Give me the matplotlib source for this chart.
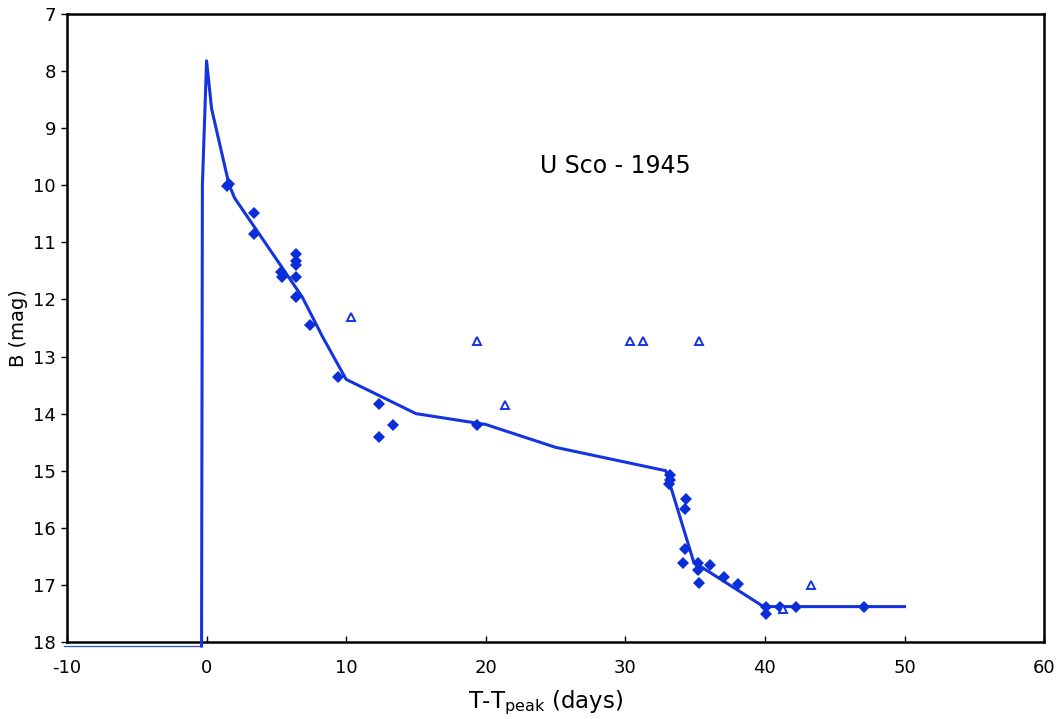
import matplotlib
matplotlib.use("Agg")
import matplotlib.pyplot as plt

plt.rcParams["axes.unicode_minus"] = False

# ---- model light curve ----
model_t = [-0.36, -0.3, 0.0, 0.36, 1.6, 2.0, 6.86, 8.3, 10.0, 15.0, 20.0, 25.0, 32.9, 34.9, 39.9, 50.0]
model_b = [18.07, 10.0, 7.82, 8.66, 9.98, 10.22, 11.96, 12.65, 13.4, 14.0, 14.19, 14.59, 15.0, 16.6, 17.38, 17.38]

# pre-eruption baseline
base_t = [-10.2, -0.36]
base_b = [18.07, 18.07]

# ---- B observations ----
obs_t = [1.43, 1.64, 3.43, 3.43, 5.36, 5.43, 6.43, 6.43, 6.43, 6.43, 6.43, 7.43,
         9.40, 12.36, 13.36, 12.36, 19.36, 33.2, 33.2, 33.1, 34.36, 34.3, 34.3,
         34.14, 35.2, 35.2, 35.3, 36.1, 37.1, 38.1, 40.1, 40.1, 41.07, 42.2, 47.07]
obs_b = [10.02, 9.97, 10.48, 10.85, 11.52, 11.6, 11.21, 11.33, 11.4, 11.6, 11.96, 12.45,
         13.36, 13.83, 14.2, 14.41, 14.2, 15.08, 15.16, 15.23, 15.5, 15.67, 16.37,
         16.62, 16.62, 16.74, 16.97, 16.65, 16.86, 16.98, 17.38, 17.51, 17.38, 17.38, 17.38]

# ---- limits / uncertain points ----
lim_t = [10.36, 19.36, 21.36, 30.3, 31.3, 35.3, 41.3, 43.3]
lim_b = [12.31, 12.72, 13.84, 12.72, 12.72, 12.72, 17.42, 17.0]

xticks = [-10, 0, 10, 20, 30, 40, 50, 60]
yticks = [7, 8, 9, 10, 11, 12, 13, 14, 15, 16, 17, 18]

BLUE = "#1434e0"

fig = plt.figure(figsize=(10.6, 7.19), dpi=100)
ax = fig.add_axes([0.0632, 0.1071, 0.9218, 0.8734])

ax.plot(base_t, base_b, color="#3050e8", lw=0.9, clip_on=False, zorder=2)
ax.plot(model_t, model_b, color=BLUE, lw=2.2, clip_on=False, zorder=3)
ax.plot(obs_t, obs_b, "D", color="#0a2ed8", markersize=6.3, markeredgewidth=0, zorder=4)
ax.plot(lim_t, lim_b, "^", markerfacecolor="white", markeredgecolor=BLUE,
        markersize=5.5, markeredgewidth=1.4, linestyle="none", zorder=4)

ax.text(29.3, 9.66, "U Sco - 1945", fontsize=17, ha="center", va="center")

ax.set_xlim(-10, 60)
ax.set_ylim(18, 7)
ax.set_xticks(xticks)
ax.set_yticks(yticks)

ax.set_xlabel(r"T-T$_{\mathrm{peak}}$ (days)", fontsize=16.5)
ax.xaxis.set_label_coords(0.49, -0.075)
ax.set_ylabel("B (mag)", fontsize=14)
ax.yaxis.set_label_coords(-0.040, 0.50)

for s in ax.spines.values():
    s.set_linewidth(1.8)
    s.set_color("black")

ax.tick_params(axis="x", direction="in", length=4, width=1, labelsize=13, pad=12)
ax.tick_params(axis="y", direction="out", length=4, width=1, labelsize=13, pad=4)

fig.savefig("out.png", dpi=100)
